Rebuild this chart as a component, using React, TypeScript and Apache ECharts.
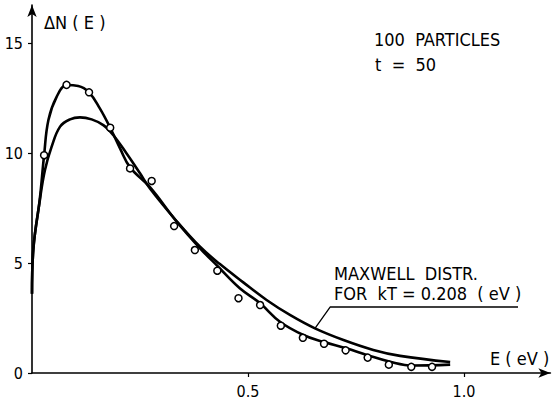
import React, { useEffect, useRef } from "react";
import * as echarts from "echarts";

// Simulation points (E in eV, ΔN)
const pointE = [0.028, 0.08, 0.132, 0.181, 0.227, 0.277, 0.329, 0.377, 0.429, 0.478, 0.528, 0.576, 0.627, 0.676, 0.726, 0.777, 0.826, 0.878, 0.926];
const pointN = [9.9, 13.1, 12.76, 11.15, 9.3, 8.73, 6.68, 5.59, 4.65, 3.4, 3.09, 2.15, 1.6, 1.33, 1.03, 0.7, 0.38, 0.28, 0.28];

// Fitted curve through simulation points
const fitE = [0, 0.003, 0.018, 0.028, 0.038, 0.057, 0.08, 0.107, 0.132, 0.157, 0.181, 0.204, 0.227, 0.273, 0.335, 0.389, 0.431, 0.481, 0.528, 0.574, 0.628, 0.674, 0.728, 0.775, 0.829, 0.882, 0.968];
const fitN = [3.6, 5.6, 7.9, 9.9, 11.5, 12.55, 13.09, 13.05, 12.76, 12.03, 11.15, 10.2, 9.35, 8.45, 6.88, 5.67, 4.83, 3.85, 3.17, 2.33, 1.73, 1.42, 1.12, 0.82, 0.51, 0.34, 0.38];

// Maxwell distribution curve kT = 0.208 eV
const maxE = [0, 0.003, 0.0185, 0.03, 0.0455, 0.065, 0.088, 0.111, 0.138, 0.165, 0.188, 0.219, 0.25, 0.273, 0.335, 0.389, 0.435, 0.489, 0.543, 0.597, 0.655, 0.721, 0.79, 0.852, 0.968];
const maxN = [3.6, 5.6, 7.9, 9.23, 10.29, 11.2, 11.53, 11.62, 11.53, 11.27, 10.82, 9.98, 9.08, 8.39, 6.9, 5.74, 4.95, 4.12, 3.32, 2.64, 2.03, 1.5, 1.05, 0.78, 0.5];

// Leader line + underline of the annotation (data coords)
const leaderE = [0.655, 0.69, 1.125];
const leaderN = [2.03, 3.0, 3.0];

const yTicks = [0, 5, 10, 15];
const xTicks = [0.5, 1.0];
const xTickLabels = ["0.5", "1.0"];

const FONT = "DejaVu Sans Condensed";

export default function App() {
  const ref = useRef<HTMLDivElement>(null);
  useEffect(() => {
    const chart = echarts.init(ref.current!, null, { renderer: "svg" });
    const zip = (a: number[], b: number[]) => a.map((v, i) => [v, b[i]]);
    chart.setOption({
      animation: false,
      backgroundColor: "#fff",
      grid: { left: 32, right: 3.6, top: 5, bottom: 30 },
      xAxis: {
        type: "value",
        min: 0,
        max: 1.2,
        splitLine: { show: false },
        axisLine: { show: true, symbol: ["none", "arrow"], symbolSize: [7, 12], lineStyle: { color: "#000", width: 1.6 } },
        axisTick: { show: true, customValues: xTicks, length: 4, lineStyle: { color: "#000", width: 1.2 } },
        axisLabel: {
          customValues: xTicks,
          formatter: (v: number) => xTickLabels[xTicks.indexOf(v)] ?? "",
          color: "#000",
          fontFamily: FONT,
          fontSize: 16,
          margin: 10,
        },
      },
      yAxis: {
        type: "value",
        min: 0,
        max: 16.73,
        splitLine: { show: false },
        axisLine: { show: true, symbol: ["none", "arrow"], symbolSize: [7, 12], lineStyle: { color: "#000", width: 1.6 } },
        axisTick: { show: true, customValues: yTicks, length: 4, lineStyle: { color: "#000", width: 1.2 } },
        axisLabel: {
          customValues: yTicks,
          color: "#000",
          fontFamily: FONT,
          fontSize: 16,
          margin: 9,
        },
      },
      series: [
        {
          type: "line",
          data: zip(maxE, maxN),
          smooth: 0.4,
          showSymbol: false,
          lineStyle: { color: "#000", width: 2.6 },
          z: 2,
        },
        {
          type: "line",
          data: zip(fitE, fitN),
          smooth: 0.4,
          showSymbol: false,
          lineStyle: { color: "#000", width: 2.6 },
          z: 2,
        },
        {
          type: "line",
          data: zip(leaderE, leaderN),
          showSymbol: false,
          lineStyle: { color: "#000", width: 1.3 },
          z: 2,
        },
        {
          type: "scatter",
          data: zip(pointE, pointN),
          symbol: "circle",
          symbolSize: 7,
          itemStyle: { color: "#fff", borderColor: "#000", borderWidth: 1.5, opacity: 1 },
          z: 5,
        },
      ],
      graphic: [
        { type: "text", left: 44, top: 13, style: { text: "ΔN ( E )", font: `18px '${FONT}'`, fill: "#000" } },
        { type: "text", left: 374, top: 30, style: { text: "100  PARTICLES", font: `18px '${FONT}'`, fill: "#000" } },
        { type: "text", left: 375, top: 55, style: { text: "t  =  50", font: `18px '${FONT}'`, fill: "#000" } },
        { type: "text", left: 334, top: 264, style: { text: "MAXWELL  DISTR.", font: `18px '${FONT}'`, fill: "#000" } },
        { type: "text", left: 334, top: 284, style: { text: "FOR  kT = 0.208  ( eV )", font: `18px '${FONT}'`, fill: "#000" } },
        { type: "text", left: 490, top: 349, style: { text: "E ( eV )", font: `18px '${FONT}'`, fill: "#000" } },
      ],
    });
    return () => chart.dispose();
  }, []);
  return <div ref={ref} style={{ width: 554, height: 403, position: "absolute", left: 0, top: 0 }} />;
}
